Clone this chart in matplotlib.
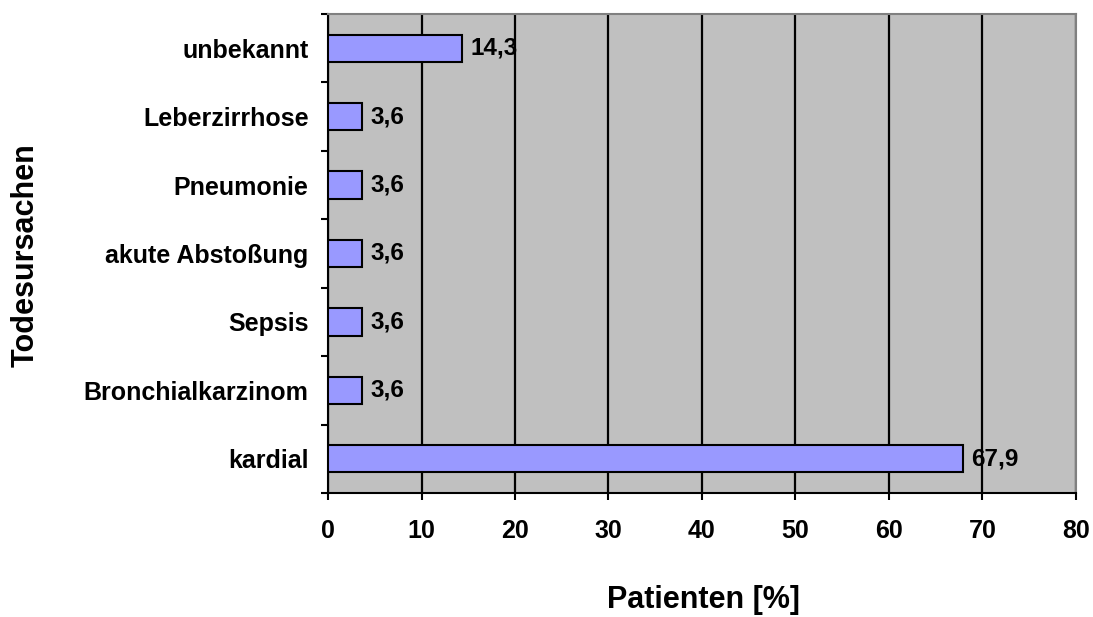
import numpy as np
import matplotlib.pyplot as plt

# Todesursachen (von unten nach oben)
categories = ['kardial', 'Bronchialkarzinom', 'Sepsis', 'akute Abstoßung',
              'Pneumonie', 'Leberzirrhose', 'unbekannt']
values = [67.9, 3.6, 3.6, 3.6, 3.6, 3.6, 14.3]
xticks = [0, 10, 20, 30, 40, 50, 60, 70, 80]

plt.rcParams['font.family'] = ['Liberation Sans', 'DejaVu Sans']
plt.rcParams['font.weight'] = 'bold'

fig = plt.figure(figsize=(10.93, 6.17), dpi=100)
ax = fig.add_axes([0.3001, 0.2010, 0.6843, 0.7763])
ax.set_facecolor('#C0C0C0')

y = np.arange(len(categories))
ax.barh(y, values, height=0.4, color='#9999FF', edgecolor='black', linewidth=1.5, zorder=3)

for yi, v in zip(y, values):
    ax.annotate(f'{v:.1f}'.replace('.', ','), (v, yi), xytext=(6, 0),
                textcoords='offset points', va='center', ha='left',
                fontsize=17.5, fontweight='bold', zorder=4)

ax.set_xlim(0, 80)
ax.set_ylim(-0.5, len(categories) - 0.5)
ax.set_xticks(xticks)
ax.set_xticklabels([str(t) for t in xticks], fontsize=18, fontweight='bold')
ax.set_yticks(y)
ax.set_yticklabels(categories, fontsize=18, fontweight='bold')
ax.set_yticks(np.arange(len(categories) + 1) - 0.5, minor=True)
ax.tick_params(axis='y', which='major', length=0, pad=14)
ax.tick_params(axis='y', which='minor', length=5, width=1.5, direction='out')
ax.tick_params(axis='x', length=5, width=1.5, direction='out', pad=14)

ax.grid(axis='x', color='black', linewidth=1.6, zorder=1)
for s in ['top', 'right']:
    ax.spines[s].set_color('#808080')
    ax.spines[s].set_linewidth(1.5)
for s in ['left', 'bottom']:
    ax.spines[s].set_color('black')
    ax.spines[s].set_linewidth(1.5)

fig.text(0.644, 0.028, 'Patienten [%]', fontsize=22, fontweight='bold',
         ha='center', va='center')
fig.text(0.023, 0.587, 'Todesursachen', fontsize=22, fontweight='bold',
         ha='center', va='center', rotation=90)

plt.savefig('out.png', dpi=100)
